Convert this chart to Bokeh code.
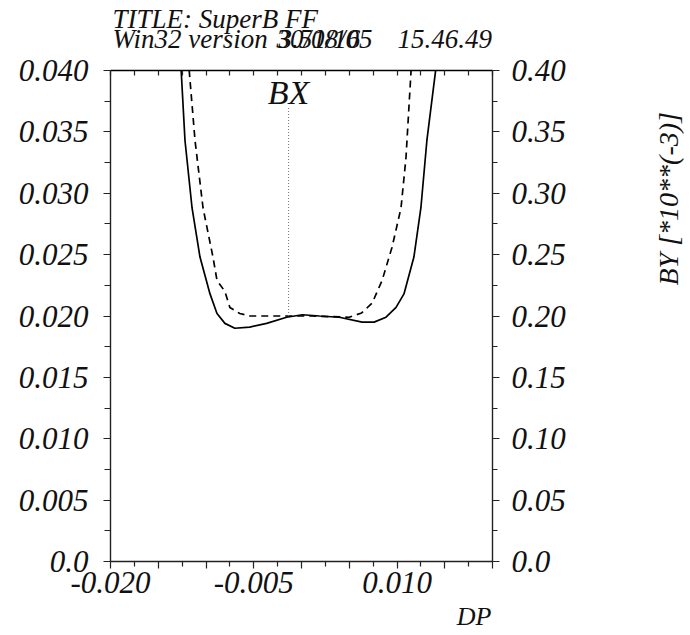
from math import pi
from bokeh.plotting import figure
from bokeh.models import Range1d, LinearAxis, FixedTicker, Label
from bokeh.layouts import column, row
from bokeh.embed import file_html
from bokeh.resources import INLINE

# ---------------- data ----------------
# BX (left axis) vs DP  -- solid curve
dp_bx = [-0.01270, -0.01260, -0.01220, -0.01146, -0.01063, -0.00958, -0.00885,
         -0.00802, -0.00698, -0.00542, -0.00365, -0.00156, 0.00010, 0.00188,
         0.00396, 0.00635, 0.00760, 0.00885, 0.00990, 0.01073, 0.01177,
         0.01250, 0.01313, 0.01406, 0.01415]
bx = [0.0410, 0.0400, 0.0343, 0.0288, 0.0248, 0.0218, 0.0202,
      0.0194, 0.0190, 0.0191, 0.0194, 0.0199, 0.0201, 0.0200,
      0.0199, 0.0195, 0.0195, 0.0199, 0.0207, 0.0218, 0.0248,
      0.0288, 0.0343, 0.0401, 0.0410]

# BY [*10**(-3)] (right axis) vs DP  -- dashed curve
dp_by = [-0.01185, -0.01177, -0.01115, -0.01031, -0.00927, -0.00885, -0.00802,
         -0.00750, -0.00646, -0.00542, -0.00156, 0.00115, 0.00500, 0.00630,
         0.00740, 0.00844, 0.00948, 0.01042, 0.01094, 0.01146, 0.01152]
by = [0.410, 0.401, 0.343, 0.288, 0.248, 0.229, 0.220,
      0.207, 0.202, 0.200, 0.200, 0.200, 0.199, 0.2025,
      0.2105, 0.229, 0.256, 0.288, 0.329, 0.398, 0.410]

# marker for the BX curve label
bx_mark_x = -0.00135
bx_mark_y0 = 0.0200
bx_mark_y1 = 0.0370
bx_label_y = 0.0382

# ticks
x_ticks = [-0.020, -0.015, -0.010, -0.005, 0.000, 0.005, 0.010, 0.015, 0.020]
x_tick_labels = ["-0.020", "", "", "-0.005", "", "", "0.010", "", ""]
x_minor = [-0.0175, -0.0125, -0.0075, -0.0025, 0.0025, 0.0075, 0.0125, 0.0175]

left_ticks = [0.0, 0.005, 0.010, 0.015, 0.020, 0.025, 0.030, 0.035, 0.040]
left_tick_labels = ["0.0", "0.005", "0.010", "0.015", "0.020", "0.025", "0.030", "0.035", "0.040"]
left_minor = [0.0025, 0.0075, 0.0125, 0.0175, 0.0225, 0.0275, 0.0325, 0.0375]

right_ticks = [0.0, 0.05, 0.10, 0.15, 0.20, 0.25, 0.30, 0.35, 0.40]
right_tick_labels = ["0.0", "0.05", "0.10", "0.15", "0.20", "0.25", "0.30", "0.35", "0.40"]
right_minor = [0.025, 0.075, 0.125, 0.175, 0.225, 0.275, 0.325, 0.375]

title_line1 = "TITLE: SuperB FF"
title_line2 = "Win32 version"
date_a = "30/08/05"
date_b = "3.51/16"
time_txt = "15.46.49"
xlabel = "DP"
ylabel_right = "BY  [*10**(-3)]"
curve_label = "BX"

# ---------------- styling ----------------
FONT = "Liberation Serif"
AX = "#222222"
TXT = "#111111"

HEAD_H = 53
MAIN_W, MAIN_H = 600, 547
SIDE_W = 88
FOOT_H = 34


def text_fig(w, h):
    f = figure(width=w, height=h, output_backend="svg", toolbar_location=None,
               x_range=Range1d(0, 1), y_range=Range1d(0, 1),
               x_axis_location=None, y_axis_location=None,
               min_border_left=0, min_border_right=0,
               min_border_top=0, min_border_bottom=0)
    f.outline_line_color = None
    for g in f.grid:
        g.visible = False
    return f


def lab(fig, text, x, y, size, units="screen", **kw):
    l = Label(text=text, x=x, y=y, x_units=units, y_units=units,
              text_font=FONT, text_font_style="italic", text_font_size=size,
              text_color=TXT, **kw)
    fig.add_layout(l)
    return l


# ---------------- header ----------------
head = text_fig(MAIN_W + SIDE_W, HEAD_H)
lab(head, title_line1, 112, 35, "27px", text_align="left", text_baseline="alphabetic")
lab(head, title_line2, 112, 15, "27px", text_align="left", text_baseline="alphabetic")
lab(head, date_a, 276, 15, "27px", text_align="left", text_baseline="alphabetic")
lab(head, date_b, 278, 15, "27px", text_align="left", text_baseline="alphabetic")
lab(head, time_txt, 397, 15, "27px", text_align="left", text_baseline="alphabetic")

# ---------------- main plot ----------------
p = figure(width=MAIN_W, height=MAIN_H, output_backend="svg", toolbar_location=None,
           x_range=Range1d(-0.020, 0.020), y_range=Range1d(0.0, 0.040),
           x_axis_location=None, y_axis_location=None,
           min_border_left=110, min_border_right=108,
           min_border_top=17, min_border_bottom=39)
p.extra_y_ranges = {"by": Range1d(0.0, 0.40)}
p.outline_line_color = None
for g in p.grid:
    g.visible = False


def style(ax, size="30px"):
    ax.axis_line_color = AX
    ax.axis_line_width = 1.4
    ax.major_tick_line_color = AX
    ax.minor_tick_line_color = AX
    ax.major_tick_line_width = 1.2
    ax.minor_tick_line_width = 1.2
    ax.major_label_text_font = FONT
    ax.major_label_text_font_style = "italic"
    ax.major_label_text_font_size = size
    ax.major_label_text_color = TXT


left = LinearAxis(ticker=FixedTicker(ticks=left_ticks, minor_ticks=left_minor),
                  major_label_overrides=dict(zip(left_ticks, left_tick_labels)))
style(left, "31px")
left.major_tick_out = 7
left.major_tick_in = 0
left.minor_tick_out = 6
left.minor_tick_in = 0
left.major_label_standoff = 15
p.add_layout(left, "left")

right = LinearAxis(y_range_name="by",
                   ticker=FixedTicker(ticks=right_ticks, minor_ticks=right_minor),
                   major_label_overrides=dict(zip(right_ticks, right_tick_labels)))
style(right, "31px")
right.major_tick_out = 7
right.major_tick_in = 0
right.minor_tick_out = 5
right.minor_tick_in = 0
right.major_label_standoff = 12
p.add_layout(right, "right")

below = LinearAxis(ticker=FixedTicker(ticks=x_ticks, minor_ticks=x_minor),
                   major_label_overrides=dict(zip(x_ticks, x_tick_labels)))
style(below, "31px")
below.major_tick_out = 7
below.major_tick_in = 0
below.minor_tick_out = 5
below.minor_tick_in = 0
below.major_label_standoff = 3
p.add_layout(below, "below")

above = LinearAxis(ticker=FixedTicker(ticks=x_ticks, minor_ticks=x_minor))
style(above)
above.major_label_text_font_size = "0px"
above.major_label_text_alpha = 0
above.major_label_standoff = 0
above.major_tick_out = 0
above.major_tick_in = 5
above.minor_tick_out = 0
above.minor_tick_in = 5
above.axis_line_color = "black"
p.add_layout(above, "above")

# curves
p.line(dp_bx, bx, line_color="black", line_width=1.7)
p.line(dp_by, by, y_range_name="by", line_color="black", line_width=1.7,
       line_dash="7 5")
p.line([bx_mark_x, bx_mark_x], [bx_mark_y0, bx_mark_y1], line_color="#777777",
       line_width=1, line_dash="1 2")
lab(p, curve_label, bx_mark_x, bx_label_y, "34px", units="data",
    text_align="center", text_baseline="alphabetic")

# ---------------- right-hand label (frame aligned with main frame) ----------------
side = text_fig(SIDE_W, MAIN_H)
lab(side, ylabel_right, 68, 276, "28px",
    text_align="left", text_baseline="alphabetic", angle=pi / 2)

# ---------------- footer (x-axis title) ----------------
foot = text_fig(MAIN_W + SIDE_W, FOOT_H)
lab(foot, xlabel, 491, 18, "26px", text_align="right", text_baseline="alphabetic")

layout = column(head, row(p, side, spacing=0), foot, spacing=0)

open("out.html", "w").write(file_html(layout, INLINE))
